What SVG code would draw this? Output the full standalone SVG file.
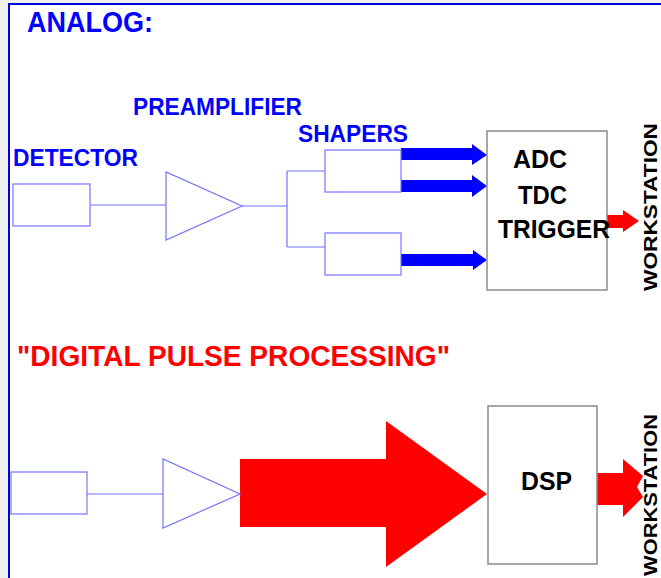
<svg xmlns="http://www.w3.org/2000/svg" width="661" height="578" viewBox="0 0 661 578">
<style>
text{font-family:"Liberation Sans",Arial,Helvetica,sans-serif;font-weight:bold}
.lbl{fill:#0000ff;font-size:24px}
.hdr{font-size:29px}
.blk{fill:#000;font-size:25px}
.ws{fill:#000;font-size:18px}
.wire{fill:none;stroke:#7373ff;stroke-width:1.2}
.box{fill:#fff;stroke:#8a8a8a;stroke-width:1.5}
.barrow{fill:#0000ff}
.rarrow{fill:#ff0000}
</style>
<rect x="0" y="0" width="661" height="578" fill="#efefef"/>
<rect id="frame" x="9" y="4" width="700" height="620" fill="#fff" stroke="#0000dd" stroke-width="2"/>

<text class="lbl hdr" x="27" y="32" textLength="126" lengthAdjust="spacingAndGlyphs">ANALOG:</text>
<text class="hdr" x="17" y="366" fill="#ff0000" textLength="433" lengthAdjust="spacingAndGlyphs">"DIGITAL PULSE PROCESSING"</text>

<g id="connectors">
  <path class="wire" d="M90 205H166 M242 206H287 M287 171V247 M287 171H325 M287 247H325"/>
  <path class="wire" d="M87 494H163"/>
  <polygon class="barrow" points="401,148 472,148 472,144 487,155 472,165 472,160 401,160"/>
  <polygon class="barrow" points="401,180 472,180 472,175 487,186 472,197 472,192 401,192"/>
  <polygon class="barrow" points="401,254 473,254 473,250 487,260 473,270 473,266 401,266"/>
  <polygon class="rarrow" points="607,215 623,215 623,210 639,221 623,232 623,228 607,228"/>
  <polygon class="rarrow" points="240,459 386,459 386,421 487,494 386,567 386,527 240,527"/>
  <polygon class="rarrow" points="596,473 623,473 623,459 643,476 637,487 643,497 623,517 623,505 596,505"/>
</g>

<g id="detector">
  <text class="lbl" x="13" y="166" textLength="125" lengthAdjust="spacingAndGlyphs">DETECTOR</text>
  <rect class="wire" x="13" y="184" width="77" height="42"/>
</g>
<g id="preamplifier">
  <text class="lbl" x="133" y="115" textLength="169" lengthAdjust="spacingAndGlyphs">PREAMPLIFIER</text>
  <polygon class="wire" points="166,172 166,240 242,206"/>
</g>
<g id="shapers">
  <text class="lbl" x="298" y="142" textLength="110" lengthAdjust="spacingAndGlyphs">SHAPERS</text>
  <rect class="wire" x="325" y="150" width="76" height="42"/>
  <rect class="wire" x="325" y="233" width="76" height="42"/>
</g>
<g id="adc-tdc-trigger">
  <rect class="box" x="487" y="131" width="120" height="159"/>
  <text class="blk" x="513" y="168" textLength="54" lengthAdjust="spacingAndGlyphs">ADC</text>
  <text class="blk" x="518" y="204" textLength="49" lengthAdjust="spacingAndGlyphs">TDC</text>
  <text class="blk" x="498" y="238" textLength="112" lengthAdjust="spacingAndGlyphs">TRIGGER</text>
</g>
<g id="workstation-analog">
  <text class="ws" transform="translate(657,291) rotate(-90)" textLength="168" lengthAdjust="spacingAndGlyphs">WORKSTATION</text>
</g>

<g id="detector-digital">
  <rect class="wire" x="11" y="472" width="76" height="42"/>
</g>
<g id="preamplifier-digital">
  <polygon class="wire" points="163,459 163,528 240,494"/>
</g>
<g id="dsp">
  <rect class="box" x="488" y="406" width="109" height="158"/>
  <text class="blk" x="521" y="490" textLength="51" lengthAdjust="spacingAndGlyphs">DSP</text>
</g>
<g id="workstation-digital">
  <text class="ws" transform="translate(657,576) rotate(-90)" textLength="162" lengthAdjust="spacingAndGlyphs">WORKSTATION</text>
</g>
</svg>
